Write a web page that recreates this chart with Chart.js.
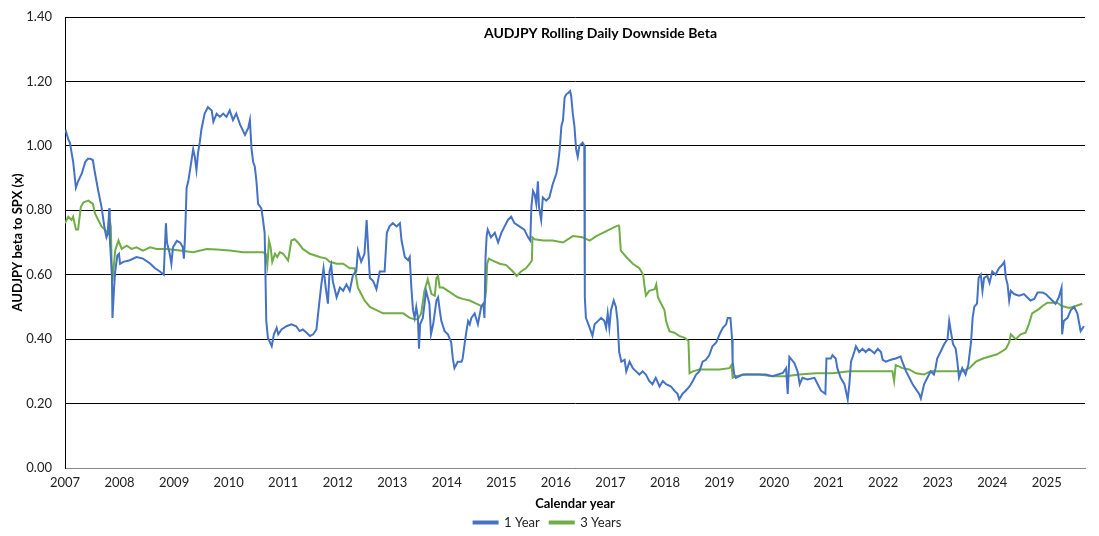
<!DOCTYPE html>
<html>
<head>
<meta charset="utf-8">
<script src="https://cdn.jsdelivr.net/npm/chart.js@4.4.1/dist/chart.umd.min.js"></script>
<style>
  html, body { margin: 0; padding: 0; background: #fff; }
  #wrap { width: 1099px; height: 536px; }
</style>
</head>
<body>
<div id="wrap"><canvas id="chart"></canvas></div>
<script>
// 1 year rolling downside beta (decimal year, beta)
const years1Y = [
  2007.01, 2007.06, 2007.09, 2007.12, 2007.15, 2007.20, 2007.24, 2007.31, 2007.37, 2007.42,
  2007.46, 2007.51, 2007.55, 2007.61, 2007.67, 2007.73, 2007.76, 2007.79, 2007.81, 2007.82,
  2007.86, 2007.87, 2007.90, 2007.92, 2007.96, 2007.99, 2008.01, 2008.07, 2008.19, 2008.31,
  2008.43, 2008.56, 2008.65, 2008.74, 2008.81, 2008.85, 2008.87, 2008.92, 2008.95, 2008.98,
  2009.05, 2009.11, 2009.16, 2009.18, 2009.20, 2009.23, 2009.26, 2009.32, 2009.35, 2009.38,
  2009.41, 2009.44, 2009.47, 2009.50, 2009.56, 2009.62, 2009.69, 2009.72, 2009.78, 2009.84,
  2009.90, 2009.96, 2010.02, 2010.08, 2010.14, 2010.21, 2010.30, 2010.36, 2010.39, 2010.42,
  2010.45, 2010.48, 2010.51, 2010.54, 2010.60, 2010.63, 2010.66, 2010.67, 2010.69, 2010.72,
  2010.79, 2010.83, 2010.88, 2010.91, 2010.97, 2011.06, 2011.15, 2011.24, 2011.30, 2011.36,
  2011.43, 2011.49, 2011.55, 2011.61, 2011.66, 2011.70, 2011.74, 2011.78, 2011.82, 2011.85,
  2011.88, 2011.91, 2011.98, 2012.04, 2012.10, 2012.16, 2012.22, 2012.28, 2012.34, 2012.37,
  2012.43, 2012.49, 2012.53, 2012.56, 2012.59, 2012.65, 2012.71, 2012.77, 2012.86, 2012.90,
  2012.95, 2013.01, 2013.08, 2013.14, 2013.17, 2013.23, 2013.29, 2013.32, 2013.35, 2013.38,
  2013.41, 2013.44, 2013.47, 2013.49, 2013.51, 2013.56, 2013.62, 2013.68, 2013.71, 2013.75,
  2013.81, 2013.84, 2013.87, 2013.90, 2013.96, 2014.02, 2014.08, 2014.11, 2014.14, 2014.20,
  2014.27, 2014.29, 2014.33, 2014.36, 2014.39, 2014.42, 2014.45, 2014.51, 2014.57, 2014.63,
  2014.67, 2014.69, 2014.71, 2014.73, 2014.75, 2014.81, 2014.88, 2014.94, 2015.00, 2015.06,
  2015.12, 2015.18, 2015.24, 2015.33, 2015.42, 2015.49, 2015.53, 2015.55, 2015.58, 2015.61,
  2015.64, 2015.67, 2015.69, 2015.73, 2015.76, 2015.82, 2015.88, 2015.94, 2016.01, 2016.04,
  2016.07, 2016.10, 2016.13, 2016.16, 2016.19, 2016.23, 2016.26, 2016.28, 2016.31, 2016.34,
  2016.37, 2016.40, 2016.43, 2016.49, 2016.52, 2016.53, 2016.55, 2016.62, 2016.67, 2016.71,
  2016.77, 2016.83, 2016.89, 2016.92, 2016.95, 2016.98, 2017.01, 2017.06, 2017.10, 2017.13,
  2017.16, 2017.20, 2017.26, 2017.29, 2017.35, 2017.41, 2017.47, 2017.53, 2017.59, 2017.65,
  2017.71, 2017.77, 2017.83, 2017.90, 2017.96, 2018.02, 2018.11, 2018.17, 2018.23, 2018.26,
  2018.32, 2018.38, 2018.45, 2018.51, 2018.57, 2018.63, 2018.69, 2018.75, 2018.81, 2018.87,
  2018.94, 2019.00, 2019.06, 2019.12, 2019.15, 2019.20, 2019.23, 2019.24, 2019.27, 2019.30,
  2019.42, 2019.55, 2019.61, 2019.79, 2019.85, 2019.97, 2020.16, 2020.22, 2020.25, 2020.28,
  2020.37, 2020.43, 2020.47, 2020.52, 2020.61, 2020.74, 2020.80, 2020.86, 2020.94, 2020.96,
  2021.04, 2021.07, 2021.13, 2021.16, 2021.22, 2021.29, 2021.35, 2021.38, 2021.41, 2021.47,
  2021.50, 2021.56, 2021.62, 2021.68, 2021.74, 2021.84, 2021.90, 2021.96, 2021.99, 2022.05,
  2022.14, 2022.23, 2022.32, 2022.35, 2022.42, 2022.48, 2022.54, 2022.60, 2022.66, 2022.69,
  2022.75, 2022.81, 2022.87, 2022.93, 2022.96, 2022.99, 2023.05, 2023.12, 2023.18, 2023.21,
  2023.24, 2023.28, 2023.33, 2023.36, 2023.39, 2023.45, 2023.51, 2023.56, 2023.61, 2023.64,
  2023.67, 2023.72, 2023.75, 2023.79, 2023.82, 2023.85, 2023.91, 2023.95, 2024.00, 2024.06,
  2024.12, 2024.18, 2024.22, 2024.25, 2024.28, 2024.31, 2024.34, 2024.40, 2024.49, 2024.58,
  2024.64, 2024.70, 2024.77, 2024.83, 2024.92, 2024.98, 2025.04, 2025.10, 2025.16, 2025.22,
  2025.27, 2025.28, 2025.31, 2025.38, 2025.44, 2025.50, 2025.56, 2025.62, 2025.68
];
const beta1Y = [
  1.05, 1.02, 1.01, 0.98, 0.95, 0.87, 0.89, 0.915, 0.95, 0.96,
  0.96, 0.956, 0.915, 0.86, 0.81, 0.74, 0.716, 0.73, 0.806, 0.716,
  0.60, 0.466, 0.56, 0.61, 0.66, 0.665, 0.634, 0.64, 0.645, 0.655,
  0.65, 0.635, 0.62, 0.61, 0.60, 0.76, 0.70, 0.665, 0.634, 0.685,
  0.705, 0.70, 0.685, 0.65, 0.716, 0.87, 0.89, 0.956, 0.99, 0.966,
  0.925, 0.98, 1.01, 1.05, 1.10, 1.12, 1.11, 1.075, 1.10, 1.09,
  1.10, 1.09, 1.11, 1.08, 1.10, 1.066, 1.034, 1.056, 1.08, 0.99,
  0.95, 0.935, 0.89, 0.82, 0.806, 0.77, 0.73, 0.65, 0.456, 0.404,
  0.378, 0.415, 0.435, 0.415, 0.43, 0.44, 0.446, 0.44, 0.425, 0.43,
  0.42, 0.41, 0.415, 0.43, 0.51, 0.57, 0.62, 0.56, 0.51, 0.61,
  0.63, 0.58, 0.53, 0.56, 0.55, 0.57, 0.55, 0.60, 0.61, 0.675,
  0.64, 0.665, 0.77, 0.675, 0.59, 0.58, 0.555, 0.61, 0.61, 0.73,
  0.75, 0.76, 0.75, 0.76, 0.706, 0.655, 0.645, 0.655, 0.56, 0.49,
  0.466, 0.50, 0.466, 0.37, 0.446, 0.466, 0.55, 0.51, 0.415, 0.446,
  0.52, 0.53, 0.49, 0.456, 0.425, 0.415, 0.39, 0.34, 0.31, 0.33,
  0.33, 0.34, 0.39, 0.425, 0.456, 0.446, 0.466, 0.48, 0.446, 0.50,
  0.51, 0.466, 0.655, 0.72, 0.74, 0.716, 0.73, 0.70, 0.73, 0.75,
  0.77, 0.78, 0.76, 0.75, 0.74, 0.716, 0.706, 0.81, 0.86, 0.85,
  0.82, 0.89, 0.81, 0.77, 0.84, 0.83, 0.84, 0.88, 0.915, 0.945,
  0.99, 1.06, 1.08, 1.15, 1.16, 1.165, 1.17, 1.155, 1.10, 1.06,
  0.99, 0.966, 1.00, 1.01, 1.00, 0.53, 0.466, 0.435, 0.41, 0.446,
  0.456, 0.466, 0.456, 0.435, 0.48, 0.435, 0.49, 0.52, 0.50, 0.456,
  0.36, 0.33, 0.336, 0.30, 0.33, 0.31, 0.30, 0.29, 0.30, 0.29,
  0.27, 0.26, 0.28, 0.253, 0.27, 0.26, 0.253, 0.24, 0.23, 0.213,
  0.23, 0.24, 0.253, 0.27, 0.29, 0.30, 0.33, 0.336, 0.35, 0.378,
  0.39, 0.415, 0.435, 0.446, 0.466, 0.466, 0.40, 0.33, 0.29, 0.28,
  0.29, 0.29, 0.29, 0.29, 0.29, 0.285, 0.295, 0.31, 0.23, 0.345,
  0.326, 0.30, 0.26, 0.28, 0.275, 0.28, 0.26, 0.24, 0.23, 0.34,
  0.34, 0.35, 0.34, 0.31, 0.28, 0.26, 0.213, 0.26, 0.33, 0.36,
  0.378, 0.36, 0.37, 0.36, 0.37, 0.356, 0.37, 0.36, 0.336, 0.33,
  0.336, 0.34, 0.346, 0.33, 0.30, 0.28, 0.26, 0.245, 0.23, 0.216,
  0.26, 0.28, 0.30, 0.29, 0.31, 0.34, 0.36, 0.385, 0.40, 0.456,
  0.425, 0.385, 0.37, 0.33, 0.28, 0.31, 0.29, 0.32, 0.39, 0.466,
  0.50, 0.51, 0.59, 0.60, 0.55, 0.59, 0.596, 0.575, 0.61, 0.60,
  0.62, 0.63, 0.64, 0.59, 0.57, 0.52, 0.55, 0.54, 0.535, 0.54,
  0.53, 0.52, 0.525, 0.545, 0.545, 0.54, 0.53, 0.52, 0.51, 0.53,
  0.56, 0.415, 0.456, 0.466, 0.49, 0.50, 0.48, 0.425, 0.44
];

// 3 year rolling downside beta
const years3Y = [
  2007.00, 2007.06, 2007.12, 2007.15, 2007.20, 2007.24, 2007.29, 2007.34, 2007.43, 2007.51,
  2007.55, 2007.61, 2007.67, 2007.73, 2007.78, 2007.81, 2007.84, 2007.86, 2007.87, 2007.92,
  2007.98, 2008.04, 2008.13, 2008.22, 2008.31, 2008.43, 2008.56, 2008.68, 2008.86, 2009.11,
  2009.35, 2009.60, 2009.78, 2010.02, 2010.27, 2010.51, 2010.63, 2010.68, 2010.71, 2010.74,
  2010.77, 2010.80, 2010.85, 2010.89, 2010.94, 2011.00, 2011.09, 2011.15, 2011.21, 2011.27,
  2011.36, 2011.49, 2011.67, 2011.79, 2011.85, 2011.98, 2012.10, 2012.22, 2012.31, 2012.34,
  2012.37, 2012.40, 2012.49, 2012.59, 2012.71, 2012.83, 2012.95, 2013.07, 2013.20, 2013.32,
  2013.41, 2013.47, 2013.53, 2013.59, 2013.65, 2013.72, 2013.78, 2013.81, 2013.84, 2013.87,
  2013.93, 2014.02, 2014.11, 2014.20, 2014.29, 2014.42, 2014.54, 2014.63, 2014.69, 2014.72,
  2014.74, 2014.77, 2014.84, 2014.97, 2015.09, 2015.21, 2015.28, 2015.36, 2015.45, 2015.52,
  2015.56, 2015.57, 2015.61, 2015.76, 2015.94, 2016.13, 2016.31, 2016.49, 2016.62, 2016.74,
  2016.86, 2016.98, 2017.10, 2017.15, 2017.16, 2017.19, 2017.29, 2017.41, 2017.53, 2017.60,
  2017.62, 2017.65, 2017.71, 2017.81, 2017.84, 2017.87, 2017.93, 2017.99, 2018.02, 2018.08,
  2018.17, 2018.26, 2018.36, 2018.43, 2018.45, 2018.51, 2018.63, 2018.81, 2019.00, 2019.18,
  2019.22, 2019.24, 2019.30, 2019.48, 2019.73, 2019.97, 2020.22, 2020.46, 2020.77, 2021.07,
  2021.38, 2021.68, 2021.99, 2022.17, 2022.20, 2022.23, 2022.35, 2022.48, 2022.60, 2022.75,
  2022.87, 2023.05, 2023.26, 2023.45, 2023.58, 2023.70, 2023.83, 2023.95, 2024.09, 2024.25,
  2024.31, 2024.34, 2024.43, 2024.52, 2024.61, 2024.67, 2024.73, 2024.86, 2024.92, 2025.01,
  2025.10, 2025.19, 2025.28, 2025.41, 2025.53, 2025.65
];
const beta3Y = [
  0.76, 0.78, 0.77, 0.78, 0.74, 0.74, 0.81, 0.825, 0.83, 0.82,
  0.79, 0.77, 0.75, 0.74, 0.73, 0.78, 0.75, 0.60, 0.58, 0.675,
  0.706, 0.68, 0.69, 0.68, 0.685, 0.675, 0.685, 0.68, 0.68, 0.675,
  0.67, 0.68, 0.678, 0.675, 0.67, 0.67, 0.67, 0.665, 0.63, 0.706,
  0.685, 0.64, 0.665, 0.655, 0.67, 0.665, 0.644, 0.706, 0.71, 0.70,
  0.68, 0.665, 0.655, 0.65, 0.64, 0.634, 0.634, 0.62, 0.62, 0.59,
  0.56, 0.55, 0.52, 0.50, 0.49, 0.48, 0.48, 0.48, 0.48, 0.466,
  0.462, 0.462, 0.48, 0.55, 0.586, 0.54, 0.535, 0.59, 0.596, 0.56,
  0.56, 0.55, 0.54, 0.53, 0.525, 0.52, 0.51, 0.503, 0.51, 0.55,
  0.634, 0.65, 0.644, 0.634, 0.63, 0.61, 0.596, 0.61, 0.62, 0.634,
  0.644, 0.716, 0.71, 0.706, 0.706, 0.70, 0.72, 0.716, 0.706, 0.72,
  0.73, 0.74, 0.75, 0.753, 0.75, 0.675, 0.655, 0.634, 0.62, 0.60,
  0.57, 0.535, 0.55, 0.555, 0.57, 0.53, 0.51, 0.49, 0.456, 0.425,
  0.42, 0.41, 0.404, 0.394, 0.294, 0.30, 0.306, 0.306, 0.306, 0.31,
  0.32, 0.28, 0.285, 0.29, 0.29, 0.285, 0.285, 0.29, 0.294, 0.294,
  0.30, 0.30, 0.30, 0.30, 0.27, 0.32, 0.31, 0.306, 0.294, 0.29,
  0.30, 0.30, 0.30, 0.30, 0.31, 0.33, 0.34, 0.346, 0.353, 0.37,
  0.39, 0.415, 0.40, 0.415, 0.42, 0.446, 0.48, 0.494, 0.503, 0.513,
  0.513, 0.513, 0.503, 0.497, 0.503, 0.51
];

const yearTicks = [2007, 2008, 2009, 2010, 2011, 2012, 2013, 2014, 2015, 2016,
  2017, 2018, 2019, 2020, 2021, 2022, 2023, 2024, 2025];

const FONT = "Lato, 'Open Sans', sans-serif";

function pairs(xs, ys) {
  return xs.map((x, i) => ({ x: x, y: ys[i] }));
}

// title sits inside the plot area, like the Excel original
const innerTitle = {
  id: "innerTitle",
  afterDraw(chart) {
    const ctx = chart.ctx;
    const area = chart.chartArea;
    ctx.save();
    ctx.font = "bold 14px " + FONT;
    ctx.fillStyle = "#000";
    ctx.textAlign = "center";
    ctx.textBaseline = "middle";
    ctx.fillText("AUDJPY Rolling Daily Downside Beta", area.left + (area.right - area.left) * 0.525, area.top + 16);
    ctx.restore();
  }
};

new Chart(document.getElementById("chart"), {
  type: "line",
  data: {
    datasets: [
      {
        label: "1 Year",
        data: pairs(years1Y, beta1Y),
        borderColor: "#4472C4",
        backgroundColor: "#4472C4",
        borderWidth: 2,
        pointRadius: 0,
        tension: 0,
        fill: false
      },
      {
        label: "3 Years",
        data: pairs(years3Y, beta3Y),
        borderColor: "#70AD47",
        backgroundColor: "#70AD47",
        borderWidth: 2,
        pointRadius: 0,
        tension: 0,
        fill: false
      }
    ]
  },
  options: {
    responsive: true,
    maintainAspectRatio: false,
    animation: false,
    layout: { padding: { left: 10, right: 14, top: 17, bottom: -3 } },
    scales: {
      x: {
        type: "linear",
        min: 2007,
        max: 2025.7,
        afterBuildTicks(scale) {
          scale.ticks = yearTicks.map(v => ({ value: v }));
        },
        afterFit(scale) {
          scale.height = 38;
        },
        ticks: {
          callback: v => String(v),
          color: "#222",
          font: { family: FONT, size: 13 },
          maxRotation: 0,
          autoSkip: false,
          padding: 7
        },
        grid: { display: false, drawTicks: false },
        border: { display: true, color: "#888", width: 1 },
        title: {
          display: true,
          text: "Calendar year",
          color: "#000",
          font: { family: FONT, size: 13, weight: "bold" },
          padding: { top: 4, bottom: -6 }
        }
      },
      y: {
        min: 0,
        max: 1.4,
        afterFit(scale) {
          scale.width = 55;
          // keep the tick padding from pushing the plot area down
          scale.paddingTop = 0;
          scale.paddingBottom = 0;
        },
        ticks: {
          stepSize: 0.2,
          callback: v => v.toFixed(2),
          color: "#222",
          font: { family: FONT, size: 13 },
          padding: 13
        },
        grid: { color: "#000", lineWidth: 1, drawTicks: false },
        border: { display: true, color: "#000", width: 1 },
        title: {
          display: true,
          text: "AUDJPY beta to SPX (x)",
          color: "#000",
          font: { family: FONT, size: 13, weight: "bold" },
          padding: { top: 0, bottom: 4 }
        }
      }
    },
    plugins: {
      legend: {
        position: "bottom",
        labels: {
          boxWidth: 24,
          boxHeight: 2,
          color: "#222",
          font: { family: FONT, size: 13 },
          padding: 10
        }
      },
      tooltip: { enabled: false }
    }
  },
  plugins: [innerTitle]
});
</script>
</body>
</html>
